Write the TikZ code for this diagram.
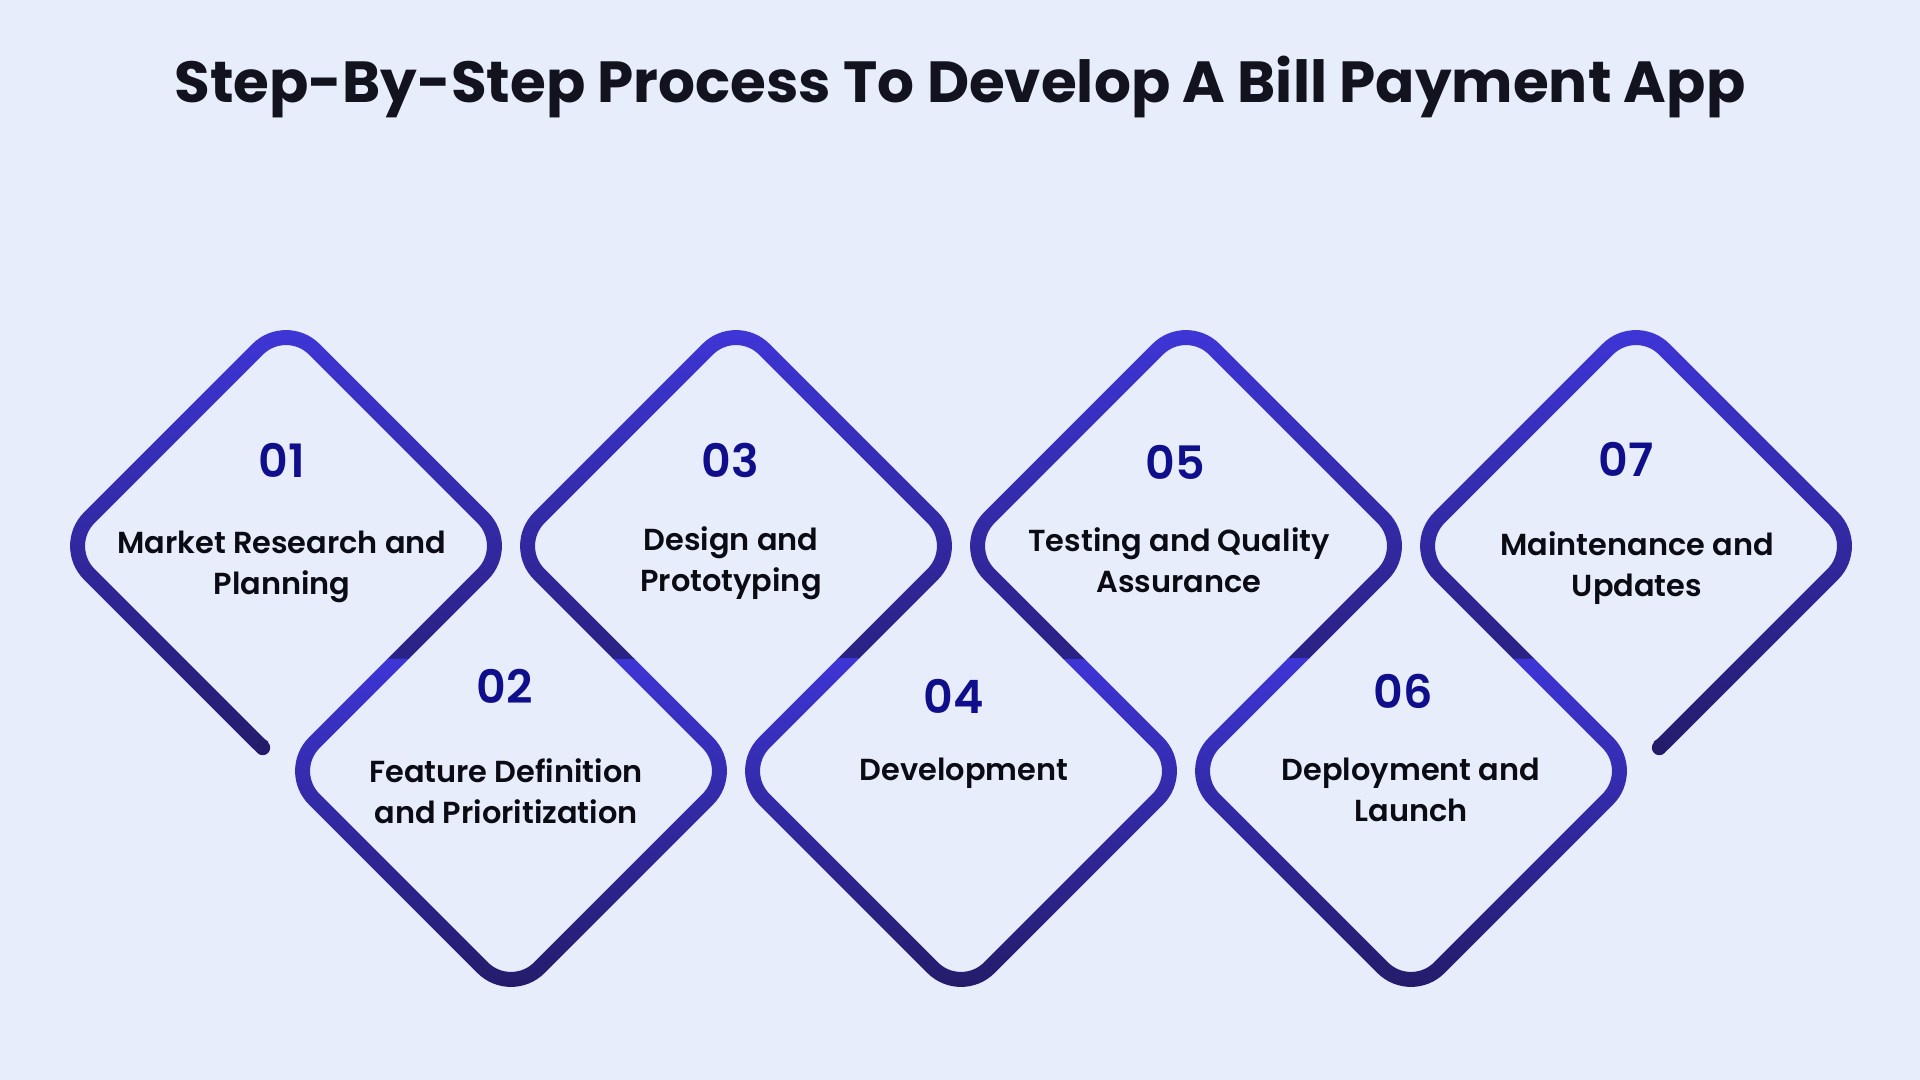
\documentclass[tikz,border=0pt]{standalone}
\usepackage{fontspec}
\setmainfont{Poppins}
\newfontfamily\semib{Poppins SemiBold}
\usetikzlibrary{positioning}

\definecolor{bgcol}{HTML}{E8EDFC}
\definecolor{ringhi}{HTML}{3E35D6}
\definecolor{ringlo}{HTML}{241C6A}
\definecolor{numcol}{HTML}{0F0F8C}
\definecolor{txtcol}{HTML}{0B0B14}
\definecolor{titlecol}{HTML}{12131F}

% clip to the ring of one step, centre #1,#2
\newcommand{\ringclip}[2]{%
    \clip [rounded corners=23.75pt] (#1,#2-235.6) -- (#1+235.6,#2) -- (#1,#2+235.6) -- (#1-235.6,#2) -- cycle
        [rounded corners=16.25pt] (#1,#2-214.4) -- (#1-214.4,#2) -- (#1,#2+214.4) -- (#1+214.4,#2) -- cycle;}

\begin{document}
\begin{tikzpicture}[x=0.5pt, y=-0.5pt]
        \tikzstyle{every node}=[inner sep=0pt]
        \tikzstyle{num}=[font=\fontsize{23}{26}\semib, text=numcol]
        \tikzstyle{lbl}=[anchor=north, align=center, font=\fontsize{15.2}{20.5}\semib, text=txtcol]

        \fill[bgcol] (0,0) rectangle (1920,1080);
        \useasboundingbox (0,0) rectangle (1920,1080);

        \node (title) [font=\fontsize{29}{34}\selectfont\bfseries, text=titlecol] at (960,87) {Step-By-Step Process To Develop A Bill Payment App};

        % inner rings: centre, clip top, clip bottom, shade bottom
        \foreach \cx/\cy/\ya/\yc/\yb in {511/771/658.5/990/987, 736/546/330/658.5/760,
            961/771/658.5/990/987, 1186/546/330/658.5/760, 1411/771/658.5/990/987} {
            \begin{scope}
                \clip (\cx-250,\ya) rectangle (\cx+250,\yc);
                \ringclip{\cx}{\cy}
                \shade[top color=ringhi, bottom color=ringlo] (\cx-250,\ya) rectangle (\cx+250,\yb);
            \end{scope}
        }

        % first ring, open at the bottom left
        \begin{scope}
            \clip (36,330) -- (536,330) -- (536,658.5) -- (286,658.5) -- (286,724.4) -- (36,974.4) -- cycle;
            \ringclip{286}{546}
            \shade[top color=ringhi, bottom color=ringlo] (36,330) rectangle (536,760);
        \end{scope}
        \fill[ringlo] (262.7,747.7) circle (7.5);

        % last ring, open at the bottom right
        \begin{scope}
            \clip (1386,330) -- (1886,330) -- (1886,974.4) -- (1636,724.4) -- (1636,658.5) -- (1386,658.5) -- cycle;
            \ringclip{1636}{546}
            \shade[top color=ringhi, bottom color=ringlo] (1386,330) rectangle (1886,760);
        \end{scope}
        \fill[ringlo] (1659.3,747.7) circle (7.5);

        % numbers and labels
        \foreach \k/\nx/\ny/\lx/\ly/\txt in {1/282/460/282/531/{Market Research and\\Planning},
            2/505/686/506/758/{Feature Definition\\and Prioritization},
            3/730/460/731/526/{Design and\\Prototyping},
            4/954/696/964/758/{Development},
            5/1175/462/1179/527/{Testing and Quality\\Assurance},
            6/1403/691/1411/758/{Deployment and\\Launch},
            7/1626/459/1637/531/{Maintenance and\\Updates}} {
            \node (n\k) [num] at (\nx,\ny) {0\k};
            \node (t\k) [lbl] at (\lx,\ly) {\txt};
        }

    \end{tikzpicture}
\end{document}
